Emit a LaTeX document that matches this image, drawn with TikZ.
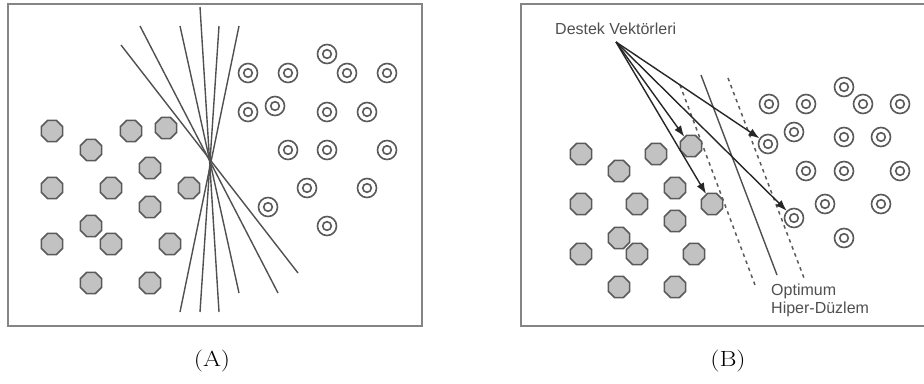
\documentclass[tikz,border=0pt]{standalone}
\usepackage{fontspec}
\usepackage{graphicx}
\newfontfamily\arialfont{Liberation Sans}
\usetikzlibrary{shapes.geometric,arrows.meta}
\definecolor{boxgray}{HTML}{858585}
\definecolor{strokegray}{HTML}{5A5A5A}
\definecolor{dotfill}{HTML}{C2C2C2}
\definecolor{linegray}{HTML}{505050}
\definecolor{textgray}{HTML}{505050}
\tikzset{
  frame/.style={draw=boxgray,line width=1.7},
  dot/.style={regular polygon,regular polygon sides=8,minimum size=23,inner sep=0,
    draw=strokegray,fill=dotfill,line width=1.5},
  ring/.style={circle,minimum size=19,inner sep=0,draw=strokegray,line width=1.6,
    path picture={\draw[strokegray,line width=1.6] (path picture bounding box.center) circle[radius=4.3];}},
  sepline/.style={draw=linegray,line width=1.4},
  hyper/.style={draw=linegray,line width=1.4},
  margin/.style={draw=strokegray,line width=1.5,dash pattern=on 3.5pt off 4pt},
  arrowline/.style={draw=black!85,line width=1.4,-{Latex[length=11pt,width=8pt]}},
  lbl/.style={font=\arialfont\fontsize{16}{18}\selectfont,text=textgray,inner sep=0},
  caption/.style={font=\fontsize{22}{24}\selectfont,inner sep=0}
}
\begin{document}
\begin{tikzpicture}[x=1pt,y=-1pt]
\useasboundingbox (0,0) rectangle (924,383);
\fill[white] (0,0) rectangle (924,383);

% ---------- Panel A ----------
\draw[frame] (8,4) rectangle (422,326);
% candidate separating lines
\draw[sepline] (121,45) -- (298,273);
\draw[sepline] (140,26) -- (278,293);
\draw[sepline] (180,26) -- (239,293);
\draw[sepline] (200,7) -- (219,312);
\draw[sepline] (219,26) -- (200,312);
\draw[sepline] (239,26) -- (180,312);
% class 1 (gray octagons)
\node[dot] (a1) at (52,131) {};
\node[dot] (a2) at (131,131) {};
\node[dot] (a3) at (166,128) {};
\node[dot] (a4) at (91,150) {};
\node[dot] (a5) at (150,168) {};
\node[dot] (a6) at (52,188) {};
\node[dot] (a7) at (111,188) {};
\node[dot] (a8) at (189,188) {};
\node[dot] (a9) at (150,207) {};
\node[dot] (a10) at (91,226) {};
\node[dot] (a11) at (52,244) {};
\node[dot] (a12) at (111,244) {};
\node[dot] (a13) at (170,244) {};
\node[dot] (a14) at (91,283) {};
\node[dot] (a15) at (150,283) {};
% class 2 (rings)
\node[ring] (ar1) at (327,54) {};
\node[ring] (ar2) at (248,73) {};
\node[ring] (ar3) at (288,73) {};
\node[ring] (ar4) at (347,73) {};
\node[ring] (ar5) at (387,73) {};
\node[ring] (ar6) at (248,112) {};
\node[ring] (ar7) at (275,106) {};
\node[ring] (ar8) at (327,112) {};
\node[ring] (ar9) at (367,112) {};
\node[ring] (ar10) at (288,150) {};
\node[ring] (ar11) at (327,150) {};
\node[ring] (ar12) at (387,150) {};
\node[ring] (ar13) at (307,188) {};
\node[ring] (ar14) at (367,188) {};
\node[ring] (ar15) at (268,207) {};
\node[ring] (ar16) at (327,226) {};
\node[caption] (capA) at (212,361) {\scalebox{1.18}[1]{(A)}};

% ---------- Panel B ----------
\draw[frame] (521,4) rectangle (930,326);
\draw[margin] (680,85) -- (755,285);
\draw[hyper] (701,75) -- (777,275);
\draw[margin] (728,78) -- (804,278);
% class 1
\node[dot] (b1) at (581,154) {};
\node[dot] (b2) at (656,154) {};
\node[dot] (sv1) at (691,146) {};
\node[dot] (b4) at (619,171) {};
\node[dot] (b5) at (675,188) {};
\node[dot] (b6) at (581,204) {};
\node[dot] (b7) at (637,204) {};
\node[dot] (sv2) at (712,204) {};
\node[dot] (b9) at (675,221) {};
\node[dot] (b10) at (619,238) {};
\node[dot] (b11) at (581,254) {};
\node[dot] (b12) at (637,254) {};
\node[dot] (b13) at (694,254) {};
\node[dot] (b14) at (619,287) {};
\node[dot] (b15) at (675,287) {};
% class 2
\node[ring] (br1) at (844,87) {};
\node[ring] (br2) at (769,104) {};
\node[ring] (br3) at (806,104) {};
\node[ring] (br4) at (863,104) {};
\node[ring] (br5) at (900,104) {};
\node[ring] (br6) at (794,132) {};
\node[ring] (sv3) at (768,144) {};
\node[ring] (br8) at (844,137) {};
\node[ring] (br9) at (881,137) {};
\node[ring] (br10) at (806,171) {};
\node[ring] (br11) at (844,171) {};
\node[ring] (br12) at (900,171) {};
\node[ring] (br13) at (825,204) {};
\node[ring] (br14) at (881,204) {};
\node[ring] (sv4) at (794,218) {};
\node[ring] (br16) at (844,238) {};
% labels and arrows
\node[lbl,anchor=base west] (svlabel) at (555,34) {Destek Vektörleri};
\coordinate (src) at (616,42);
\draw[arrowline] (src) -- (sv1);
\draw[arrowline] (src) -- (sv2);
\draw[arrowline] (src) -- (sv3);
\draw[arrowline] (src) -- (sv4);
\node[lbl,anchor=north west,align=left] (hplabel) at (771,284) {Optimum\\Hiper-Düzlem};
\node[caption] (capB) at (728,361) {\scalebox{1.18}[1]{(B)}};
\end{tikzpicture}
\end{document}
